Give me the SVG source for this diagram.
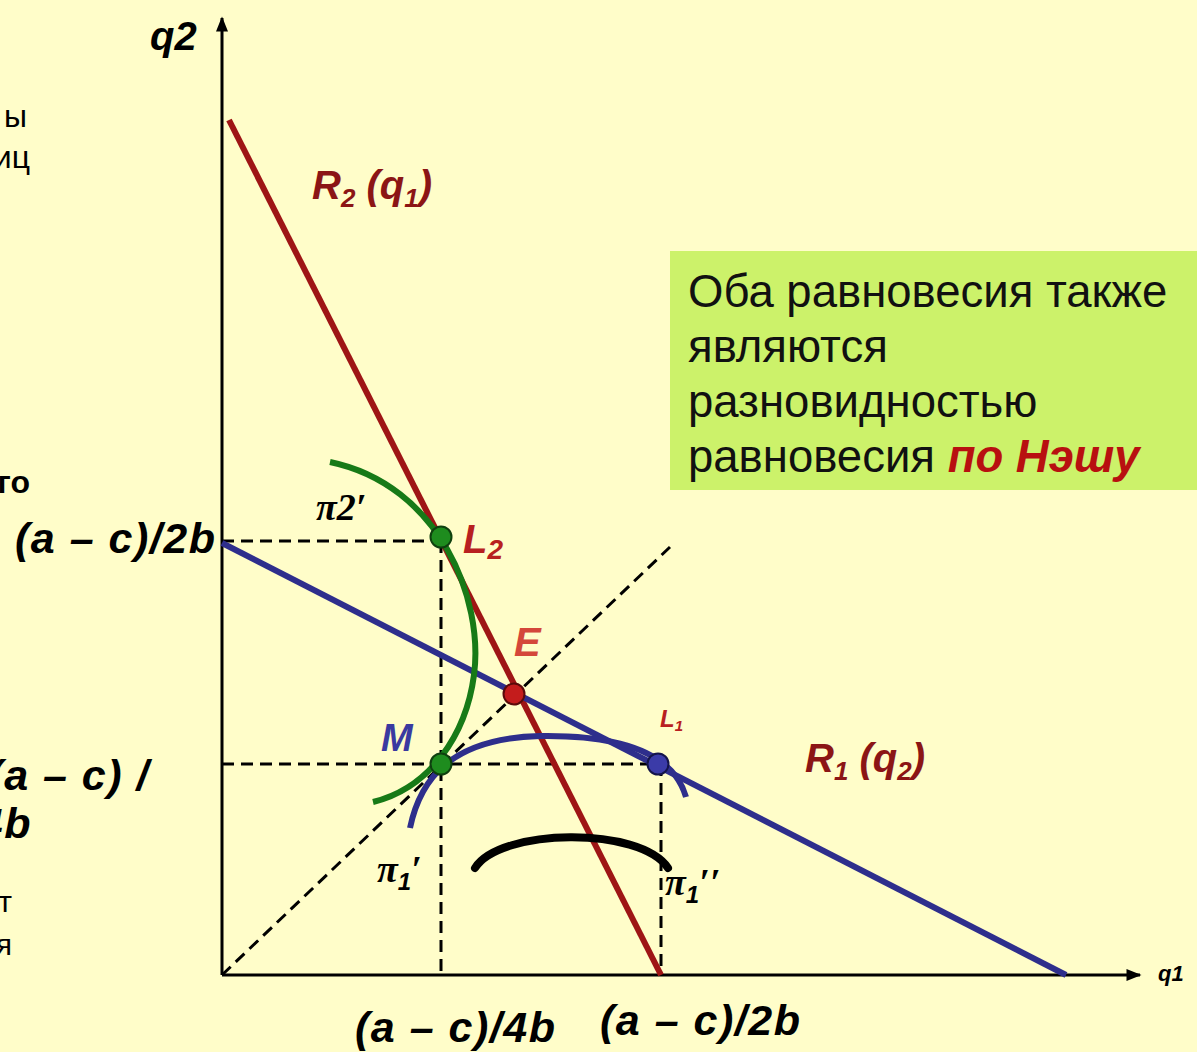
<svg xmlns="http://www.w3.org/2000/svg" width="1197" height="1052" viewBox="0 0 1197 1052">
<style>
.lbl{font-family:"Liberation Sans",Arial,sans-serif;font-weight:bold;font-style:italic;}
.big{font-size:43px;letter-spacing:1.5px;fill:#000;}
.pi{font-family:"Liberation Serif","Times New Roman",serif;font-weight:bold;font-style:italic;fill:#000;}
.side{font-family:"Liberation Sans",Arial,sans-serif;fill:#000;}
.box{font-family:"Liberation Sans",Arial,sans-serif;font-size:45.5px;fill:#111;}
.dash{stroke:#000;stroke-width:3;stroke-dasharray:12 7;fill:none;}
.axis{stroke:#000;stroke-width:3;fill:none;}
</style>
<defs>
<marker id="arr" viewBox="0 0 10 10" refX="9" refY="5" markerWidth="5.5" markerHeight="5" orient="auto" markerUnits="strokeWidth">
<path d="M0,1 L10,5 L0,9 Z" fill="#000"/>
</marker>
</defs>
<rect x="0" y="0" width="1197" height="1052" fill="#FFFDC9"/>

<g id="axes">
<line class="axis" x1="222" y1="975" x2="222" y2="18" marker-end="url(#arr)"/>
<line class="axis" x1="222" y1="975" x2="1140" y2="975" marker-end="url(#arr)"/>
</g>

<g id="connectors">
<line class="dash" x1="222" y1="541" x2="441" y2="541"/>
<line class="dash" x1="441" y1="541" x2="441" y2="975"/>
<line class="dash" x1="222" y1="764" x2="658" y2="764"/>
<line class="dash" x1="661" y1="764" x2="661" y2="975"/>
<line class="dash" x1="222" y1="975" x2="670" y2="547"/>
<line id="R2" x1="229" y1="120" x2="661" y2="975" stroke="#9E1515" stroke-width="6"/>
<line id="R1" x1="222" y1="543" x2="1066" y2="975" stroke="#2E2E8C" stroke-width="6"/>
<path id="pi2" d="M330,462 C440,485 484,600 474,675 C466,735 430,788 373,802" fill="none" stroke="#177A17" stroke-width="6"/>
<path id="pi1a" d="M410,828 C420,780 450,738 540,736 C610,735 672,748 686,797" fill="none" stroke="#2E2E8C" stroke-width="6"/>
<path id="pi1b" d="M475,868 C500,828 640,826 668,868" fill="none" stroke="#000" stroke-width="8" stroke-linecap="round"/>
</g>

<g id="L2"><circle cx="441" cy="537" r="10.5" fill="#1E8C1E" stroke="#0F400F" stroke-width="2"/></g>
<g id="M"><circle cx="441" cy="764" r="10.5" fill="#1E8C1E" stroke="#0F400F" stroke-width="2"/></g>
<g id="E"><circle cx="514" cy="694" r="10.5" fill="#C41C1C" stroke="#5A0A0A" stroke-width="2"/></g>
<g id="L1"><circle cx="658" cy="764" r="10.5" fill="#3B3BA8" stroke="#14144A" stroke-width="2"/></g>

<g id="labels">
<text class="lbl" x="150" y="50" font-size="40" fill="#000">q2</text>
<text class="lbl" x="1158" y="981" font-size="22" fill="#000">q1</text>
<text class="lbl" x="312" y="199" font-size="40" fill="#8B1515">R<tspan font-size="26" dy="8">2</tspan><tspan dy="-8"> (q</tspan><tspan font-size="26" dy="8">1</tspan><tspan dy="-8">)</tspan></text>
<text class="lbl" x="805" y="772" font-size="40" fill="#8B1515">R<tspan font-size="26" dy="8">1</tspan><tspan dy="-8"> (q</tspan><tspan font-size="26" dy="8">2</tspan><tspan dy="-8">)</tspan></text>
<text class="lbl" x="463" y="553" font-size="40" fill="#B82020">L<tspan font-size="28" dy="6">2</tspan></text>
<text class="lbl" x="660" y="727" font-size="24" fill="#B82020">L<tspan font-size="15" dy="4">1</tspan></text>
<text class="lbl" x="514" y="656" font-size="40" fill="#D4473A">E</text>
<text class="lbl" x="381" y="751" font-size="38" fill="#3A3AA0">M</text>
<text class="pi" x="316" y="520" font-size="38">π2′</text>
<text class="pi" x="377" y="882" font-size="38">π<tspan font-family="Liberation Sans,sans-serif" font-size="24" dy="8">1</tspan><tspan dy="-8">′</tspan></text>
<text class="pi" x="665" y="895" font-size="38">π<tspan font-family="Liberation Sans,sans-serif" font-size="24" dy="8">1</tspan><tspan dy="-8">′′</tspan></text>
<text class="lbl big" x="15" y="553">(a – c)/2b</text>
<text class="lbl big" x="150" y="790" text-anchor="end">(a – c) /</text>
<text class="lbl big" x="32" y="838" text-anchor="end">4b</text>
<text class="lbl big" x="355" y="1042">(a – c)/4b</text>
<text class="lbl big" x="600" y="1035">(a – c)/2b</text>
</g>

<g id="side-text">
<text class="side" x="27" y="127" font-size="32" text-anchor="end">ы</text>
<text class="side" x="30" y="168" font-size="32" text-anchor="end">иц</text>
<text class="side" x="30" y="493" font-size="32" font-weight="bold" text-anchor="end">го</text>
<text class="side" x="12" y="912" font-size="30" text-anchor="end">т</text>
<text class="side" x="12" y="955" font-size="30" text-anchor="end">я</text>
</g>

<g id="note">
<rect x="670" y="251" width="527" height="239" fill="#CCF26A"/>
<text class="box" x="688" y="307">Оба равновесия также</text>
<text class="box" x="688" y="362">являются</text>
<text class="box" x="688" y="417">разновидностью</text>
<text class="box" x="688" y="472">равновесия <tspan font-weight="bold" font-style="italic" fill="#B81010">по Нэшу</tspan></text>
</g>
</svg>
